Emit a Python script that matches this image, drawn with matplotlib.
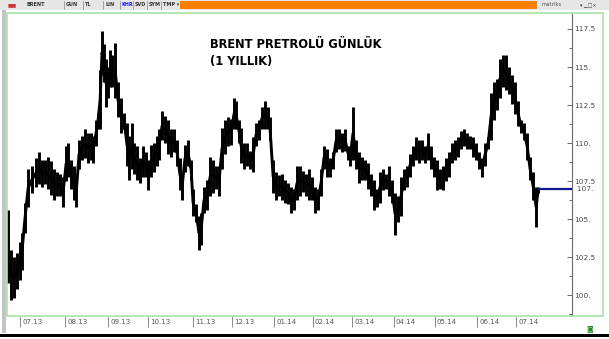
import matplotlib
matplotlib.use("Agg")
import matplotlib.pyplot as plt
from matplotlib.patches import Rectangle
from matplotlib.transforms import ScaledTranslation
import numpy as np

# ---- data ----
# x = trading-day position, low/high = daily range
day = [-6.3, -4.7, -3.1, -1.6, 0.0, 1.0, 2.6, 4.2, 6.3, 8.3, 9.9, 11.5, 13.0, 14.6, 16.1,
       17.7, 19.3, 20.8, 22.4, 24.0, 25.0, 26.6, 28.1, 29.2, 30.7, 32.3, 33.9, 35.4, 37.0,
       38.0, 39.6, 40.6, 41.7, 42.7, 43.8, 44.8, 45.8, 46.9, 47.9, 49.5, 51.0, 52.6, 54.2,
       55.7, 56.8, 58.3, 59.4, 60.9, 62.5, 64.1, 65.6, 66.7, 68.2, 69.8, 71.4, 72.4, 74.0,
       75.5, 77.1, 78.6, 80.2, 81.8, 83.3, 84.4, 85.9, 87.5, 89.1, 90.1, 91.7, 93.2, 94.3,
       95.8, 97.4, 99.0, 100.5, 102.1, 103.6, 105.2, 106.8, 108.3, 109.9, 111.5, 112.5,
       114.1, 115.1, 116.7, 118.2, 119.8, 121.4, 122.9, 124.5, 126.0, 127.6, 129.2, 130.2,
       131.8, 133.3, 134.9, 136.5, 138.0, 139.6, 141.1, 142.7, 144.3, 145.8, 147.4, 149.0,
       150.5, 152.1, 153.6, 155.2, 156.8, 158.3, 159.9, 161.5, 163.0, 164.6, 166.1, 167.7,
       169.3, 170.8, 171.9, 173.4, 175.0, 176.6, 178.1, 179.7, 181.3, 182.8, 184.4, 185.9,
       187.5, 189.1, 190.6, 192.2, 193.8, 195.3, 196.9, 198.4, 200.0, 201.6, 203.1, 204.7,
       206.3, 207.8, 209.4, 210.9, 212.5, 214.1, 215.6, 217.2, 218.8, 220.3, 221.9, 223.4,
       225.0, 226.6, 228.1, 229.7, 231.3, 232.8, 234.4, 235.9, 237.5, 239.1, 240.6, 242.2,
       243.8, 245.3, 246.9, 248.4, 250.0, 251.6, 253.1, 254.7, 256.3, 257.8, 259.4, 260.9,
       262.5, 264.1, 265.6, 267.2, 268.8, 269.8]
low = [100.8, 99.7, 99.8, 100.4, 101.0, 101.7, 104.1, 105.8, 106.75, 107.1, 107.3, 107.1, 107.3,
       107.0, 106.6, 106.3, 106.5, 106.5, 105.8, 107.5, 107.8, 107.0, 106.3, 105.8, 108.3,
       108.9, 109.0, 108.7, 108.9, 108.7, 109.8, 110.9, 110.9, 114.5, 114.0, 112.4, 113.0,
       113.7, 113.7, 113.0, 111.7, 110.7, 110.9, 108.5, 107.6, 108.3, 108.0, 107.6, 107.4,
       107.8, 107.8, 106.9, 107.8, 108.1, 108.5, 108.9, 110.2, 110.0, 109.3, 109.1, 109.4,
       108.5, 106.9, 106.3, 108.1, 108.5, 107.6, 105.2, 104.8, 103.0, 103.3, 105.4, 105.6,
       106.5, 106.75, 107.0, 106.5, 108.3, 109.3, 109.8, 109.9, 110.9, 110.9, 110.0, 108.7,
       108.3, 108.5, 108.3, 108.1, 109.8, 110.2, 110.9, 110.9, 110.9, 110.2, 106.75, 106.3,
       106.5, 106.3, 106.1, 106.0, 105.4, 105.6, 106.3, 106.5, 106.8, 106.5, 106.3, 106.3,
       105.4, 105.6, 106.5, 108.3, 107.8, 107.8, 108.3, 109.4, 109.6, 109.4, 109.5, 108.9,
       108.5, 108.9, 108.3, 107.4, 107.6, 107.6, 107.0, 106.5, 105.6, 105.8, 106.1, 106.9,
       107.0, 106.5, 106.1, 104.0, 104.8, 105.2, 106.9, 107.1, 107.8, 108.5, 108.9, 108.7,
       108.9, 108.7, 108.9, 108.3, 107.8, 106.9, 107.0, 106.9, 107.5, 107.8, 108.7, 108.9,
       109.1, 109.6, 109.8, 109.6, 109.6, 109.1, 108.9, 108.3, 107.8, 108.5, 109.6, 110.2,
       111.5, 112.2, 113.0, 113.7, 113.5, 113.2, 112.6, 111.9, 111.1, 110.7, 110.2, 108.9,
       107.6, 106.3, 104.5, 106.75]
high = [105.6, 103.0, 102.5, 102.8, 103.5, 104.1, 106.1, 108.3, 108.5, 109.0, 109.4, 108.9,
        108.9, 109.1, 108.8, 108.3, 108.1, 108.0, 107.8, 109.8, 110.0, 108.9, 108.5, 107.5,
        110.2, 110.5, 110.9, 110.7, 110.7, 110.5, 111.5, 112.0, 114.8, 117.4, 116.5, 115.5,
        115.0, 116.1, 115.8, 116.6, 114.0, 113.0, 112.0, 111.3, 110.5, 111.3, 110.0, 109.8,
        109.0, 109.8, 109.4, 108.9, 109.9, 110.0, 110.5, 110.9, 112.1, 111.8, 111.5, 110.9,
        110.9, 110.2, 109.0, 108.0, 109.9, 110.2, 108.9, 107.0, 106.0, 105.2, 105.4, 107.1,
        107.6, 109.1, 108.9, 108.5, 108.5, 111.0, 111.5, 111.7, 111.6, 113.0, 112.8, 111.5,
        111.0, 110.0, 110.0, 109.5, 110.4, 111.3, 111.5, 112.4, 112.8, 112.4, 111.7, 108.9,
        108.1, 107.9, 108.0, 107.6, 107.4, 107.1, 107.0, 108.5, 108.5, 108.2, 108.0, 108.3,
        107.8, 107.1, 107.0, 108.3, 109.8, 109.6, 109.0, 109.4, 110.9, 110.9, 110.7, 110.9,
        109.8, 109.6, 112.4, 110.2, 109.4, 109.1, 108.9, 108.7, 108.0, 107.6, 107.0, 108.1,
        108.3, 108.0, 108.5, 107.6, 106.75, 106.5, 107.8, 108.3, 108.5, 109.3, 109.8, 110.4,
        110.2, 110.2, 109.8, 110.7, 109.8, 109.1, 108.9, 108.3, 108.5, 109.0, 109.4, 110.0,
        110.2, 110.4, 110.8, 110.9, 110.7, 110.5, 110.4, 110.0, 109.4, 109.0, 110.0, 110.4,
        113.3, 114.0, 114.2, 115.5, 115.8, 115.8, 115.0, 114.5, 114.0, 112.8, 111.5, 111.3,
        110.7, 109.1, 108.1, 107.1, 107.1]
last_price = 107.0

month_pos = [0, 23.5, 46, 66.5, 90, 110.5, 132.5, 152.5, 173, 194.5, 216, 238, 258.5]
month_labels = ["07.13", "08.13", "09.13", "10.13", "11.13", "12.13", "01.14",
                "02.14", "03.14", "04.14", "05.14", "06.14", "07.14"]
yticks_major = [100, 102.5, 105, 107.5, 110, 112.5, 115, 117.5]

title_1 = "BRENT PRETROLÜ GÜNLÜK"
title_2 = "(1 YILLIK)"

toolbar_items = ["GUN", "TL", "LIN", "KHR", "SVD", "SYM", "TMP \u25be"]

# ---- figure ----
W, H = 609, 339
fig = plt.figure(figsize=(W / 100, H / 100), dpi=100)
fig.patch.set_facecolor("white")


def px(x, y):
    # pixel (from top-left) -> figure fraction
    return x / W, 1 - y / H


# axes cover the green panel
x0, y0 = px(7, 316)
x1, y1 = px(603, 13)
ax = fig.add_axes([x0, y0, x1 - x0, y1 - y0])
ax.set_xlim(-6.8, 303.6)
ax.set_ylim(98.65, 118.55)
axis_x = 287.5

for s in ["left", "top", "bottom"]:
    ax.spines[s].set_visible(False)
ax.spines["right"].set_position(("data", axis_x))
ax.spines["right"].set_color("#6a6a6a")
ax.spines["right"].set_linewidth(0.8)

# price bars
mid = (np.array(low) + np.array(high)) / 2
ax.vlines(day, low, high, color="black", lw=2.1)
ax.plot(day, mid, color="black", lw=2.1, solid_capstyle="butt")
ax.hlines(last_price, day[-1], axis_x, color="#14148c", lw=1.6)

# y axis
ax.yaxis.tick_right()
ax.set_yticks(yticks_major)
ax.set_yticks(np.arange(98.75, 118.5, 2.5), minor=True)
ax.set_yticklabels([f"{v:.1f}" if v % 1 else f"{int(v)}." for v in yticks_major])
ax.tick_params(axis="y", which="major", direction="in", length=3.5, width=0.7,
               color="#6a6a6a", labelsize=5.3, labelcolor="#4a4a4a", pad=1.5)
ax.tick_params(axis="y", which="minor", direction="in", length=2, width=0.7,
               color="#6a6a6a")
ax.text(axis_x, last_price, "  107.", fontsize=5.3, color="#4a4a4a",
        va="center", ha="left")

# x axis
ax.set_xticks(month_pos)
ax.set_xticklabels(month_labels)
ax.tick_params(axis="x", direction="out", length=8, width=0.7, color="#8a8a8a",
               labelsize=5.0, labelcolor="#555555", pad=-5.5)
off = ScaledTranslation(1.5 / 72, 0, fig.dpi_scale_trans)
for lab in ax.get_xticklabels():
    lab.set_ha("left")
    lab.set_transform(lab.get_transform() + off)

# title
ax.text(*px(210, 44), title_1, transform=fig.transFigure, fontsize=8.3,
        fontweight="bold", va="center", ha="left")
ax.text(*px(210, 61), title_2, transform=fig.transFigure, fontsize=8.3,
        fontweight="bold", va="center", ha="left")

# green panel frame
fig.patches.append(Rectangle(px(7, 316), (603 - 7) / W, (316 - 13) / H,
                             transform=fig.transFigure, fill=False,
                             edgecolor="#a8e0a8", lw=1.2, zorder=5))
# left gray strip
fig.patches.append(Rectangle(px(2, 333), 4 / W, 323 / H, transform=fig.transFigure,
                             facecolor="#c4c4c4", edgecolor="none"))
# toolbar
fig.patches.append(Rectangle(px(0, 10), 1, 10 / H, transform=fig.transFigure,
                             facecolor="#e6e6e6", edgecolor="none"))
fig.patches.append(Rectangle(px(180, 9), (537 - 180) / W, 8 / H,
                             transform=fig.transFigure, facecolor="#ff8000",
                             edgecolor="none"))
fig.text(*px(8, 5), "\u25a0\u25a0", fontsize=3.5, color="#cc3333", va="center")
fig.text(*px(26, 5), "BRENT", fontsize=3.5, color="#333333", va="center",
         fontweight="bold")
bx = [64, 83, 103, 120, 133, 147, 161]
for xb, t in zip(bx, toolbar_items):
    fig.text(*px(xb + 2, 5), t, fontsize=3.5, va="center", fontweight="bold",
             color="#1a1aff" if t == "KHR" else "#333333")
    fig.lines.append(plt.Line2D([xb / W, xb / W], [1 - 1 / H, 1 - 9 / H],
                                transform=fig.transFigure, color="#888888", lw=0.5))
fig.text(*px(541, 5), "matriks", fontsize=3.8, color="#555555", va="center")
fig.text(*px(580, 5), "\u25be \u2581\u25a1\u00d7", fontsize=3.5, color="#444444",
         va="center")

# bottom black line
fig.patches.append(Rectangle(px(0, 337), 1, 3 / H, transform=fig.transFigure,
                             facecolor="black", edgecolor="none"))
fig.text(*px(586, 329), "\u25d9", fontsize=5, color="#2a8a2a", va="center")

fig.savefig("out.png", dpi=100)
